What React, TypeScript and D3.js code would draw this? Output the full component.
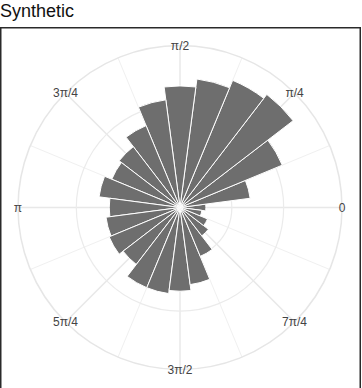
import { useRef, useEffect } from "react";
import * as d3 from "d3";

// bar directions (degrees, counter-clockwise from 0) and radial values
const thetaDeg = [0, 15, 30, 45, 60, 75, 90, 105, 120, 135, 150, 165, 180, 195, 210, 225, 240, 255, 270, 285, 300, 315, 330, 345];
const rValues = [1.0, 2.73, 4.27, 5.5, 5.31, 5.0, 4.69, 4.19, 3.42, 2.96, 2.85, 3.15, 2.73, 2.88, 2.96, 2.77, 3.35, 3.35, 3.23, 3.0, 2.04, 1.38, 1.15, 0.85];

const radialTicks = [2, 4];
const angleTicks = [0, 45, 90, 135, 180, 225, 270, 315];
const angleLabels = ["0", "π/4", "π/2", "3π/4", "π", "5π/4", "3π/2", "7π/4"];

export default function App() {
  const ref = useRef<SVGSVGElement>(null);

  useEffect(() => {
    if (!ref.current) return;
    const svg = d3.select(ref.current);
    svg.selectAll("*").remove();

    const width = 362;
    const height = 388;
    const cx = 180;
    const cy = 207.5;
    const outer = 162;

    // Title
    svg
      .append("text")
      .attr("x", 0)
      .attr("y", 17)
      .attr("font-family", "'Liberation Sans', Arial, sans-serif")
      .attr("font-size", "18px")
      .attr("fill", "#111")
      .text("Synthetic");

    // Frame
    svg
      .append("rect")
      .attr("x", 0.75)
      .attr("y", 27.75)
      .attr("width", 359.5)
      .attr("height", height)
      .attr("fill", "white")
      .attr("stroke", "#2a2a2a")
      .attr("stroke-width", 1.5);

    const rScale = d3.scaleLinear().domain([0, 6.25]).range([0, outer]);
    const aScale = d3.scaleLinear().domain([0, 360]).range([0, 2 * Math.PI]);

    const g = svg.append("g").attr("transform", `translate(${cx},${cy})`);

    // Minor radial lines
    const minor = d3.range(22.5, 360, 45);
    g.selectAll("line.minor")
      .data(minor)
      .enter()
      .append("line")
      .attr("x1", 0)
      .attr("y1", 0)
      .attr("x2", (d) => outer * Math.cos(aScale(d)))
      .attr("y2", (d) => -outer * Math.sin(aScale(d)))
      .attr("stroke", "#f0f0f0")
      .attr("stroke-width", 1);

    // Major radial lines
    g.selectAll("line.major")
      .data(angleTicks)
      .enter()
      .append("line")
      .attr("x1", 0)
      .attr("y1", 0)
      .attr("x2", (d) => outer * Math.cos(aScale(d)))
      .attr("y2", (d) => -outer * Math.sin(aScale(d)))
      .attr("stroke", "#e8e8e8")
      .attr("stroke-width", 1.5);

    // Grid circles
    g.selectAll("circle.grid")
      .data(radialTicks)
      .enter()
      .append("circle")
      .attr("r", (d) => rScale(d))
      .attr("fill", "none")
      .attr("stroke", "#ebebeb")
      .attr("stroke-width", 1.2);

    g.append("circle")
      .attr("r", outer)
      .attr("fill", "none")
      .attr("stroke", "#e6e6e6")
      .attr("stroke-width", 1.5);

    // Bars
    const half = 7.5;
    const arc = d3
      .arc<number>()
      .innerRadius(0)
      .outerRadius((_, i) => rScale(rValues[i]))
      .startAngle((d) => Math.PI / 2 - aScale(d + half))
      .endAngle((d) => Math.PI / 2 - aScale(d - half));

    g.selectAll("path.bar")
      .data(thetaDeg)
      .enter()
      .append("path")
      .attr("d", (d, i) => arc(d, i) as string)
      .attr("fill", "#6e6e6e")
      .attr("stroke", "white")
      .attr("stroke-width", 1);

    // Angular labels
    g.selectAll("text.lab")
      .data(angleTicks)
      .enter()
      .append("text")
      .attr("x", (d) => outer * Math.cos(aScale(d)))
      .attr("y", (d) => -outer * Math.sin(aScale(d)))
      .attr("dy", "0.35em")
      .attr("text-anchor", "middle")
      .attr("font-family", "'Liberation Sans', Arial, sans-serif")
      .attr("font-size", "12px")
      .attr("fill", "#444")
      .text((_, i) => angleLabels[i]);

    svg.attr("width", width).attr("height", height);
  }, []);

  return (
    <svg
      ref={ref}
      width={362}
      height={388}
      style={{ position: "absolute", left: 0, top: 0 }}
    />
  );
}
